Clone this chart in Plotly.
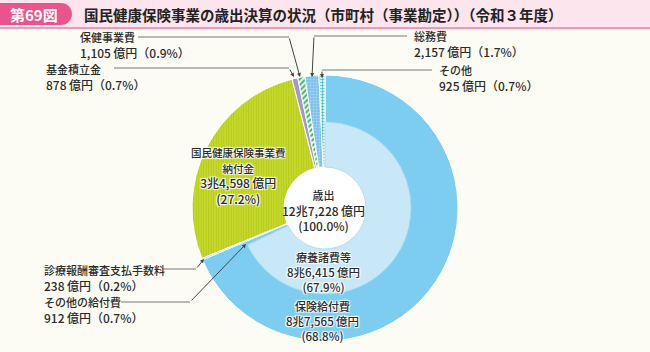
import plotly.graph_objects as go

# ---------------- data ----------------
outer_labels = ["保険給付費", "国民健康保険事業費納付金", "基金積立金", "保健事業費", "総務費", "その他"]
outer_values = [87565, 34598, 878, 1105, 2157, 925]          # 億円
benefit_labels = ["療養諸費等", "その他の給付費", "診療報酬審査支払手数料"]
benefit_values = [86415, 912, 238]                          # 億円 (breakdown of 保険給付費)
total_value = sum(outer_values)

title_text = "国民健康保険事業の歳出決算の状況（市町村（事業勘定））（令和３年度）"
badge_text = "第69図"

FONT = "Noto Sans CJK JP"
TXT = "#2a2a2a"
BG = "#fdfcf4"

def oku(v):
    cho, rest = divmod(v, 10000)
    return f"{cho}兆{rest:,}\u2009億円" if cho else f"{rest:,}\u2009億円"

def pct(v):
    return f"{v / total_value * 100:.1f}%"

def sz(s, size):
    return f"<span style='font-size:{size}px'>{s}</span>"

# ---------------- colours / patterns ----------------
C_BENEFIT = "#7dcdf1"
C_RYOYO = "#c8e8f8"
C_NOFU = "#cbdd30"
C_KIKIN = "#a398cc"
C_HOKEN = "#eaf6e8"
C_SOMU = "#7dbfec"
C_OTHER = "#d2f0ec"

shinsa = benefit_values[2]
ring_values = [outer_values[0] - shinsa, shinsa] + outer_values[1:]
ring_labels = [outer_labels[0], benefit_labels[2]] + outer_labels[1:]
ring_colors = [C_BENEFIT, C_BENEFIT, C_NOFU, C_KIKIN, C_HOKEN, C_SOMU, C_OTHER]
ring_shapes = ["", "", "|", "", "/", ".", "+"]
ring_fg = [C_BENEFIT, C_BENEFIT, "#b4cb1c", C_KIKIN, "#33b066", "#a8d8f6", "#2fb3aa"]
ring_size = [6, 6, 2.5, 6, 4, 3, 3]
ring_sol = [0.3, 0.3, 0.5, 0.3, 0.45, 0.35, 0.35]

inner_values = benefit_values + outer_values[1:]
inner_labels = benefit_labels + outer_labels[1:]
TR = "rgba(0,0,0,0)"
inner_colors = [C_RYOYO, TR, TR, TR, TR, TR, TR, TR]
inner_lw = [0.8, 0, 0, 0, 0, 0, 0, 0]

W, H = 650, 352
cx, cy, R_out, R_in, R_hole = 325, 208, 133, 86, 41

def dom(r):
    return dict(x=[(cx - r) / W, (cx + r) / W], y=[1 - (cy + r) / H, 1 - (cy - r) / H])

fig = go.Figure()
fig.add_trace(go.Scatter(x=[None], y=[None], showlegend=False, hoverinfo="skip"))

fig.add_trace(go.Pie(
    values=ring_values, labels=ring_labels, sort=False, direction="clockwise",
    rotation=0, hole=R_hole / R_out, domain=dom(R_out), textinfo="none",
    marker=dict(colors=ring_colors, line=dict(color="white", width=1),
                pattern=dict(shape=ring_shapes, fgcolor=ring_fg, bgcolor=ring_colors,
                             size=ring_size, solidity=ring_sol)),
    showlegend=False, hoverinfo="label+value"))

fig.add_trace(go.Pie(
    values=inner_values, labels=inner_labels, sort=False, direction="clockwise",
    rotation=0, hole=R_hole / R_in, domain=dom(R_in), textinfo="none",
    marker=dict(colors=inner_colors, line=dict(color="#a9d8f0", width=inner_lw)),
    showlegend=False, hoverinfo="label+value"))

shapes = []
annotations = []

# header bar
shapes.append(dict(type="rect", x0=0, x1=W, y0=0, y1=27, fillcolor="#fce5ec", line=dict(width=0), layer="below"))
shapes.append(dict(type="line", x0=0, x1=W, y0=28, y1=28, line=dict(color="#ea7ba0", width=1.5), layer="below"))
shapes.append(dict(type="path",
                   path="M0,3 L61,3 C67.1,3 72,7.9 72,14 C72,20.1 67.1,25 61,25 L0,25 Z",
                   fillcolor="#e9558b", line=dict(width=0), layer="below"))
annotations.append(dict(x=34, y=14, text=f"<b>{badge_text}</b>", showarrow=False,
                        font=dict(family=FONT, size=15, color="white"), xanchor="center", yanchor="middle"))
annotations.append(dict(x=82, y=14, text=f"<b>{title_text}</b>", showarrow=False,
                        font=dict(family=FONT, size=14.5, color="#222222"), xanchor="left", yanchor="middle"))

# white centre disc
shapes.append(dict(type="circle", x0=cx - R_hole - 1, x1=cx + R_hole + 1, y0=cy - R_hole - 2, y1=cy + R_hole,
                   fillcolor="white", line=dict(color="#dddddd", width=0.5), layer="below"))

halo = "1px 1px 1px #fff, -1px -1px 1px #fff, 1px -1px 1px #fff, -1px 1px 1px #fff"

def block(x, y, lines, size=12, anchor="center", align="center", shadow=None):
    f = dict(family=FONT, size=size, color=TXT, weight=500)
    if shadow:
        f["shadow"] = shadow
    annotations.append(dict(x=x, y=y, text="<br>".join(lines), showarrow=False, font=f,
                            xanchor=anchor, yanchor="middle", align=align))

# in-chart labels
block(238, 176, [sz("国民健康保険事業費", 10.5), sz("納付金", 10.5),
                 oku(outer_values[1]), f"({pct(outer_values[1])})"], 12, shadow=halo)
block(323, 210, [sz("歳出", 11), oku(total_value), "(100.0%)"], 12)
block(323, 272, [sz(benefit_labels[0], 11), oku(benefit_values[0]),
                 f"({pct(benefit_values[0])})"], 11.5, shadow=halo)
block(322, 321, [sz(outer_labels[0], 11), oku(outer_values[0]),
                 f"({pct(outer_values[0])})"], 11.5, shadow=halo)

# side labels with leader lines
def side(x, y, name, v):
    block(x, y + 7, [sz(name, 11), f"{oku(v)}（{pct(v)}）"], 12, anchor="left", align="left")

def leader(points):
    path = "M" + " L".join(f"{px},{py}" for px, py in points[:-1])
    if len(points) > 2:
        shapes.append(dict(type="path", path=path, line=dict(color="#777777", width=1)))
    (px, py), (tx, ty) = points[-2], points[-1]
    annotations.append(dict(x=tx, y=ty, ax=px - tx, ay=py - ty, axref="pixel", ayref="pixel",
                            text="", showarrow=True, arrowhead=2, arrowsize=0.8, arrowwidth=1,
                            arrowcolor="#444444"))

side(78, 38, outer_labels[3], outer_values[3])
leader([(138, 37), (289, 37), (300, 77)])
side(44, 70, outer_labels[2], outer_values[2])
leader([(114, 68), (289, 68), (294, 77)])
side(412, 37, outer_labels[4], outer_values[4])
leader([(407, 36), (314, 36), (312, 77)])
side(437, 71, outer_labels[5], outer_values[5])
leader([(432, 70), (322, 70), (322, 78)])
side(42, 271, benefit_labels[2], benefit_values[2])
leader([(162, 269), (196, 269), (204, 259)])
side(42, 303, benefit_labels[1], benefit_values[1])
leader([(121, 302), (190, 302), (246, 244)])

fig.update_layout(
    width=W, height=H, margin=dict(l=0, r=0, t=0, b=0),
    paper_bgcolor=BG, plot_bgcolor=BG, showlegend=False,
    xaxis=dict(range=[0, W], visible=False, fixedrange=True, domain=[0, 1]),
    yaxis=dict(range=[H, 0], visible=False, fixedrange=True, domain=[0, 1]),
    shapes=shapes, annotations=annotations,
)

fig.write_html("out.html")
